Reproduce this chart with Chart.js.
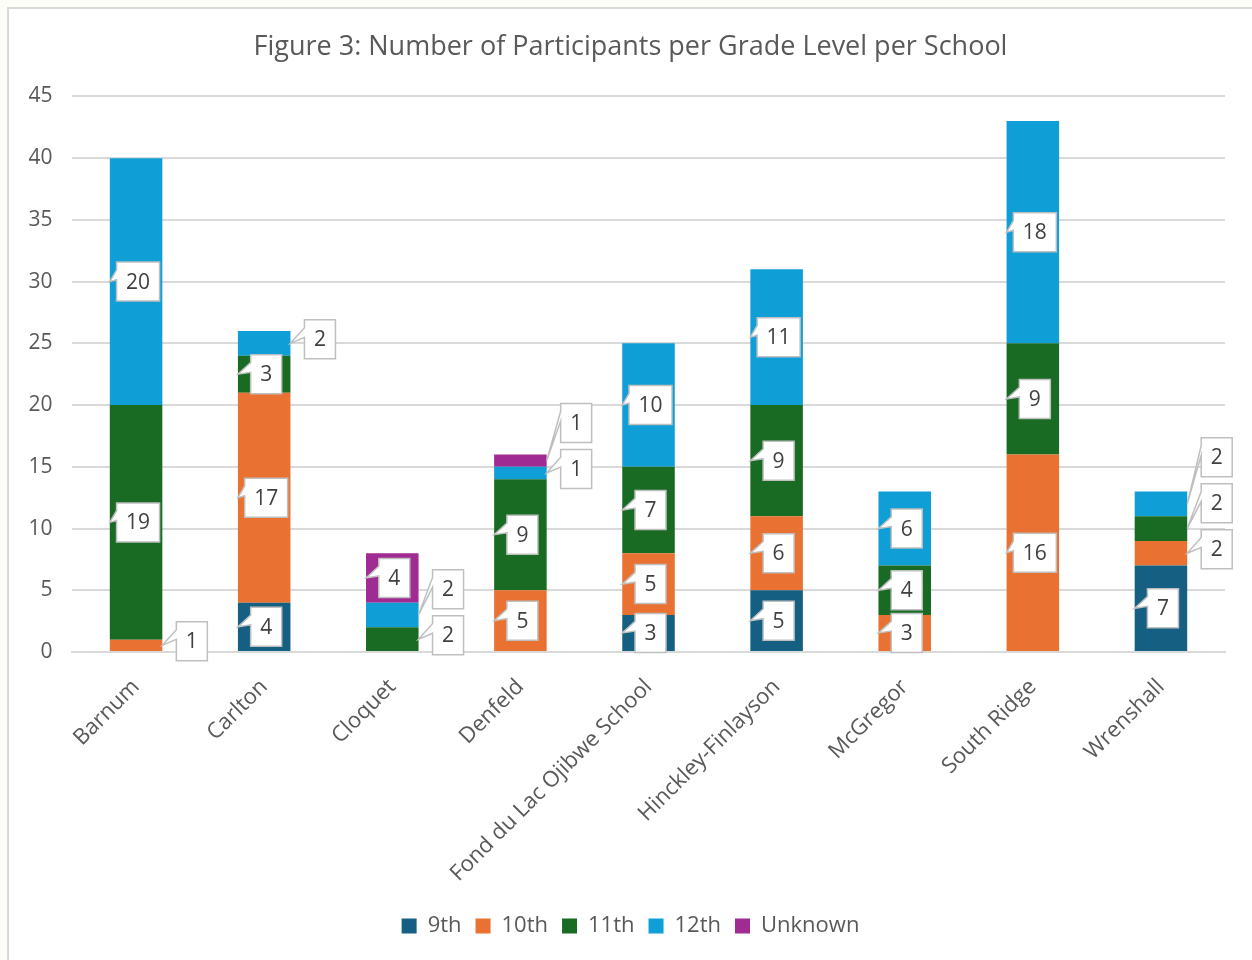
<!DOCTYPE html>
<html>
<head>
<meta charset="utf-8">
<script src="https://cdn.jsdelivr.net/npm/chart.js@4/dist/chart.umd.min.js"></script>
<style>
  html, body { margin: 0; padding: 0; background: #fdfdf8; }
  #wrap { position: absolute; left: 7px; top: 7px; width: 1245px; height: 953px;
          background: #fff; border-left: 2px solid #d9d9d9; border-top: 2px solid #d9d9d9; }
</style>
</head>
<body>
<div id="wrap"><canvas id="grafico" width="1243" height="951"></canvas></div>
<script>
// datos del grafico
const escuelas = ["Barnum", "Carlton", "Cloquet", "Denfeld", "Fond du Lac Ojibwe School",
                  "Hinckley-Finlayson", "McGregor", "South Ridge", "Wrenshall"];
const grado9  = [0, 4, 0, 0, 3, 5, 0, 0, 7];
const grado10 = [1, 17, 0, 5, 5, 6, 3, 16, 2];
const grado11 = [19, 3, 2, 9, 7, 9, 4, 9, 2];
const grado12 = [20, 2, 2, 1, 10, 11, 6, 18, 2];
const desconocido = [0, 0, 4, 1, 0, 0, 0, 0, 0];
const ticksY = [0, 5, 10, 15, 20, 25, 30, 35, 40, 45];

const fuente = "'Open Sans', 'Noto Sans', sans-serif";

// etiquetas tipo "callout" como en Excel
const etiquetas = {
  id: "etiquetas",
  afterDatasetsDraw(chart) {
    const ctx = chart.ctx;
    ctx.save();
    ctx.font = "21px " + fuente;
    ctx.textAlign = "center";
    ctx.textBaseline = "middle";
    const topeFuera = {};
    chart.data.datasets.forEach((ds, i) => {
      const meta = chart.getDatasetMeta(i);
      meta.data.forEach((el, j) => {
        const v = ds.data[j];
        if (!v) return;
        const txt = String(v);
        const w = txt.length > 1 ? 43 : 31;
        const h = 39;
        const cy = (el.y + el.base) / 2;
        const alto = el.base - el.y;
        let bx, by, ax, ay;
        if (alto > 32) {
          bx = el.x - w / 2 + 2;
          by = cy - h / 2;
          ax = el.x - el.width / 2;
          ay = cy;
        } else {
          let y = cy - 4;
          const tope = topeFuera[j];
          if (tope !== undefined && y + h / 2 > tope - 7) y = tope - 7 - h / 2;
          topeFuera[j] = y - h / 2;
          bx = el.x + el.width / 2 + 14;
          by = y - h / 2;
          ax = el.x + el.width / 2;
          ay = cy;
        }
        ctx.beginPath();
        ctx.moveTo(bx, by);
        ctx.lineTo(bx + w, by);
        ctx.lineTo(bx + w, by + h);
        ctx.lineTo(bx, by + h);
        ctx.lineTo(bx, by + h * 0.45);
        ctx.lineTo(ax, ay);
        ctx.lineTo(bx, by + h * 0.2);
        ctx.closePath();
        ctx.fillStyle = "#ffffff";
        ctx.fill();
        ctx.lineWidth = 1.5;
        ctx.strokeStyle = "#bfbfbf";
        ctx.stroke();
        ctx.fillStyle = "#404040";
        ctx.fillText(txt, bx + w / 2, by + h / 2 + 1);
      });
    });
    ctx.restore();
  }
};

let miCanvas = document.getElementById("grafico").getContext("2d");

var chart = new Chart(miCanvas, {
  type: "bar",
  data: {
    labels: escuelas,
    datasets: [
      { label: "9th", backgroundColor: "#156082", data: grado9 },
      { label: "10th", backgroundColor: "#E97132", data: grado10 },
      { label: "11th", backgroundColor: "#196B24", data: grado11 },
      { label: "12th", backgroundColor: "#0F9ED5", data: grado12 },
      { label: "Unknown", backgroundColor: "#A02B93", data: desconocido }
    ]
  },
  options: {
    responsive: false,
    animation: false,
    layout: { padding: { left: 0, right: 0, top: 6, bottom: 13 } },
    datasets: { bar: { categoryPercentage: 1, barPercentage: 0.41 } },
    plugins: {
      title: {
        display: true,
        text: "Figure 3: Number of Participants per Grade Level per School",
        color: "#595959",
        font: { family: fuente, size: 27, weight: "normal" },
        padding: { top: 16, bottom: 33 }
      },
      legend: {
        position: "bottom",
        labels: {
          color: "#595959",
          font: { family: fuente, size: 22 },
          boxWidth: 15, boxHeight: 15, padding: 14
        }
      },
      tooltip: { enabled: false }
    },
    scales: {
      x: {
        stacked: true,
        grid: { display: false },
        border: { color: "#d9d9d9", width: 2 },
        ticks: { color: "#595959", font: { family: fuente, size: 22 }, minRotation: 45, maxRotation: 45, padding: 14 }
      },
      y: {
        stacked: true,
        min: 0, max: 45,
        afterBuildTicks: (ax) => { ax.ticks = ticksY.map(v => ({ value: v })); },
        grid: { color: "#d9d9d9", lineWidth: 2, drawTicks: false },
        border: { display: false },
        ticks: { color: "#595959", font: { family: fuente, size: 21 }, padding: 19.5 }
      },
      // eje vacio a la derecha solo para dejar margen
      margen: {
        position: "right",
        grid: { display: false },
        border: { display: false },
        ticks: { display: false },
        afterFit: (s) => { s.width = 27; }
      }
    }
  },
  plugins: [etiquetas]
});
</script>
</body>
</html>
